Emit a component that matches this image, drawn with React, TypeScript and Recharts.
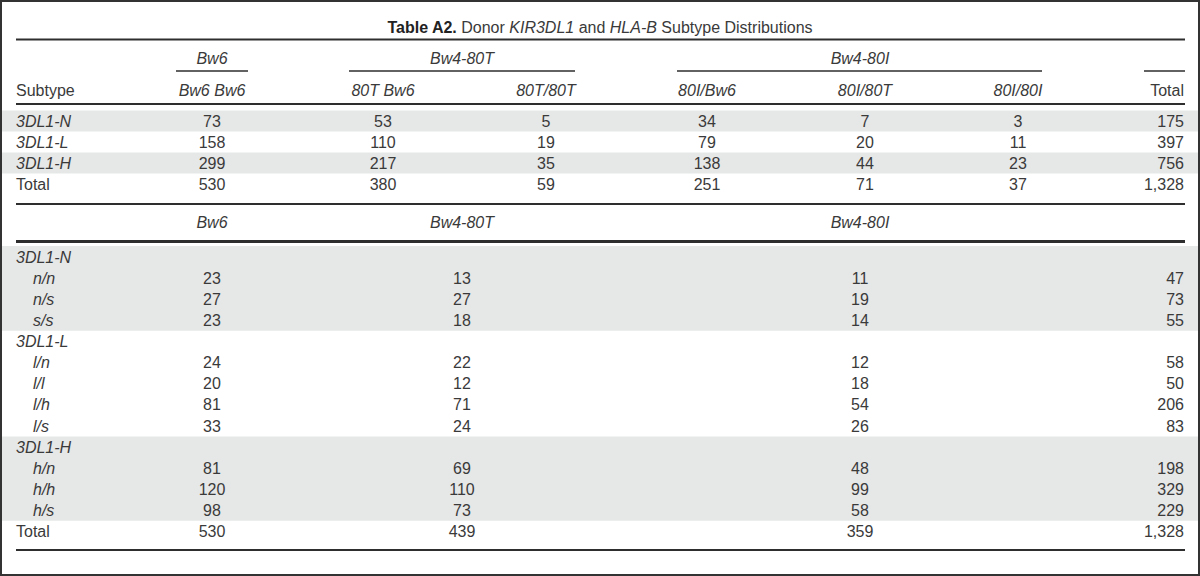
import React from 'react';
import { ScatterChart, Scatter, XAxis, YAxis, ReferenceLine, ReferenceArea } from 'recharts';

// ---- data ----
const groupHeaders = ['Bw6', 'Bw4-80T', 'Bw4-80I'];
const subtypeCols = ['Bw6 Bw6', '80T Bw6', '80T/80T', '80I/Bw6', '80I/80T', '80I/80I'];
const subtypeRows = ['3DL1-N', '3DL1-L', '3DL1-H', 'Total'];
const rowN = [73, 53, 5, 34, 7, 3, 175];
const rowL = [158, 110, 19, 79, 20, 11, 397];
const rowH = [299, 217, 35, 138, 44, 23, 756];
const rowTotal = [530, 380, 59, 251, 71, 37, 1328];

const genoLabelsN = ['n/n', 'n/s', 's/s'];
const genoValuesN = [[23, 13, 11, 47], [27, 27, 19, 73], [23, 18, 14, 55]];
const genoLabelsL = ['l/n', 'l/l', 'l/h', 'l/s'];
const genoValuesL = [[24, 22, 12, 58], [20, 12, 18, 50], [81, 71, 54, 206], [33, 24, 26, 83]];
const genoLabelsH = ['h/n', 'h/h', 'h/s'];
const genoValuesH = [[81, 69, 48, 198], [120, 110, 99, 329], [98, 73, 58, 229]];
const genoTotal = [530, 439, 359, 1328];

// ---- layout ----
const W = 1200;
const H = 576;
const LABEL_X = 16;
const SUB_X = 33;
const TOTAL_X = 1184;
const RULE_L = 16;
const RULE_R = 1185;
const COL1_X = [212, 383, 546, 707, 865, 1018];
const GROUP1_X = [212, 462, 860];
const COL2_X = [212, 462, 860];
const ROW1_Y = (i: number) => 121 + 21 * i;
const ROW2_Y = (i: number) => 257 + 21.1 * i;
const TEXT = '#3a3a3a';
const SHADE = '#e6e7e7';
const FONT = '"Liberation Sans", Arial, sans-serif';

const fmt = (n: number) => n.toLocaleString('en-US');

type Pt = { x: number; y: number; text: string; italic?: boolean };

const startPts: Pt[] = [];
const midPts: Pt[] = [];
const endPts: Pt[] = [];

// section 1 headers
groupHeaders.forEach((g, i) => midPts.push({ x: GROUP1_X[i], y: 58, text: g, italic: true }));
startPts.push({ x: LABEL_X, y: 90, text: 'Subtype' });
subtypeCols.forEach((c, i) => midPts.push({ x: COL1_X[i], y: 90, text: c, italic: true }));
endPts.push({ x: TOTAL_X, y: 90, text: 'Total' });

// section 1 body
[rowN, rowL, rowH, rowTotal].forEach((row, r) => {
  const y = ROW1_Y(r);
  startPts.push({ x: LABEL_X, y, text: subtypeRows[r], italic: subtypeRows[r] !== 'Total' });
  row.slice(0, 6).forEach((v, c) => midPts.push({ x: COL1_X[c], y, text: fmt(v) }));
  endPts.push({ x: TOTAL_X, y, text: fmt(row[6]) });
});

// section 2 headers
groupHeaders.forEach((g, i) => midPts.push({ x: COL2_X[i], y: 222, text: g, italic: true }));

// section 2 body
let r2 = 0;
const blocks: [string, string[], number[][]][] = [
  ['3DL1-N', genoLabelsN, genoValuesN],
  ['3DL1-L', genoLabelsL, genoValuesL],
  ['3DL1-H', genoLabelsH, genoValuesH],
];
blocks.forEach(([name, labels, values]) => {
  startPts.push({ x: LABEL_X, y: ROW2_Y(r2), text: name, italic: true });
  r2++;
  labels.forEach((lab, i) => {
    const y = ROW2_Y(r2);
    startPts.push({ x: SUB_X, y, text: lab, italic: true });
    values[i].slice(0, 3).forEach((v, c) => midPts.push({ x: COL2_X[c], y, text: fmt(v) }));
    endPts.push({ x: TOTAL_X, y, text: fmt(values[i][3]) });
    r2++;
  });
});
startPts.push({ x: LABEL_X, y: ROW2_Y(r2), text: 'Total' });
genoTotal.slice(0, 3).forEach((v, c) => midPts.push({ x: COL2_X[c], y: ROW2_Y(r2), text: fmt(v) }));
endPts.push({ x: TOTAL_X, y: ROW2_Y(r2), text: fmt(genoTotal[3]) });

const titlePt = [{ x: W / 2, y: 27, text: 'title' }];

const cellShape = (anchor: 'start' | 'middle' | 'end') => (props: any) => {
  const { cx, cy, payload } = props;
  return (
    <text
      x={cx}
      y={cy}
      dy="0.36em"
      textAnchor={anchor}
      fontFamily={FONT}
      fontSize={16}
      fontStyle={payload.italic ? 'italic' : 'normal'}
      fill={TEXT}
    >
      {payload.text}
    </text>
  );
};

const titleShape = (props: any) => {
  const { cx, cy } = props;
  return (
    <text x={cx} y={cy} dy="0.36em" textAnchor="middle" fontFamily={FONT} fontSize={16} fill={TEXT}>
      <tspan fontWeight="bold" fill="#222">Table A2.</tspan>
      <tspan> Donor </tspan>
      <tspan fontStyle="italic">KIR3DL1</tspan>
      <tspan> and </tspan>
      <tspan fontStyle="italic">HLA-B</tspan>
      <tspan> Subtype Distributions</tspan>
    </text>
  );
};

const hRule = (y: number, x1: number, x2: number, w: number, key: string) => (
  <ReferenceLine
    key={key}
    segment={[{ x: x1, y }, { x: x2, y }]}
    stroke="#2e2e2e"
    strokeWidth={w}
    ifOverflow="visible"
  />
);

const shade = (y1: number, y2: number, key: string) => (
  <ReferenceArea key={key} x1={2} x2={W - 2} y1={y1} y2={y2} fill={SHADE} fillOpacity={1} stroke="none" ifOverflow="visible" />
);

export default function App() {
  return (
    <div style={{ position: 'absolute', left: 0, top: 0, width: W, height: H, background: '#fff' }}>
      <ScatterChart width={W} height={H} margin={{ top: 0, right: 0, bottom: 0, left: 0 }}>
        <XAxis type="number" dataKey="x" domain={[0, W]} hide allowDataOverflow />
        <YAxis type="number" dataKey="y" domain={[0, H]} reversed hide allowDataOverflow />
        {shade(ROW1_Y(0) - 10.5, ROW1_Y(0) + 10.5, 's1')}
        {shade(ROW1_Y(2) - 10.5, ROW1_Y(2) + 10.5, 's2')}
        {shade(ROW2_Y(0) - 11, ROW2_Y(3) + 10.5, 's3')}
        {shade(ROW2_Y(9) - 10.5, ROW2_Y(12) + 10.5, 's4')}
        {hRule(39.5, RULE_L, RULE_R, 2, 'r1')}
        {hRule(71, 176, 248, 1.5, 'u1')}
        {hRule(71, 349, 575, 1.5, 'u2')}
        {hRule(71, 677, 1042, 1.5, 'u3')}
        {hRule(71, 1144, RULE_R, 1.5, 'u4')}
        {hRule(104, RULE_L, RULE_R, 2, 'r2')}
        {hRule(204, RULE_L, RULE_R, 2, 'r3')}
        {hRule(241.5, RULE_L, RULE_R, 3, 'r4')}
        {hRule(550, RULE_L, RULE_R, 2, 'r5')}
        <Scatter data={titlePt} shape={titleShape} isAnimationActive={false} />
        <Scatter data={startPts} shape={cellShape('start')} isAnimationActive={false} />
        <Scatter data={midPts} shape={cellShape('middle')} isAnimationActive={false} />
        <Scatter data={endPts} shape={cellShape('end')} isAnimationActive={false} />
      </ScatterChart>
      <div
        style={{
          position: 'absolute',
          left: 0,
          top: 0,
          width: W,
          height: H,
          boxSizing: 'border-box',
          border: '2px solid #333',
          pointerEvents: 'none',
        }}
      />
    </div>
  );
}
